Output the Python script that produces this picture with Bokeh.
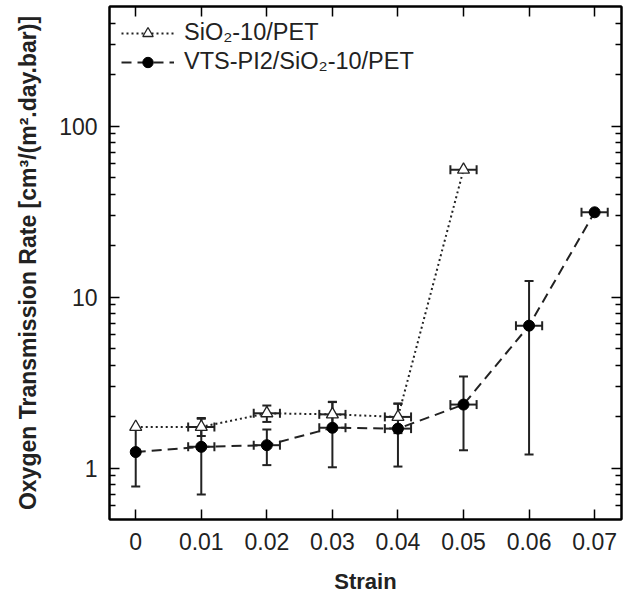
from bokeh.plotting import figure
from bokeh.models import (ColumnDataSource, Whisker, TeeHead, FixedTicker, LinearAxis, LogAxis,
                          Legend, LegendItem, PrintfTickFormatter, CustomJSTickFormatter, Range1d)
from bokeh.embed import file_html
from bokeh.resources import INLINE

# ---- data ----
sio2_strain = [0.0, 0.01, 0.02, 0.03, 0.04, 0.05]
sio2_otr = [1.74, 1.74, 2.09, 2.06, 1.99, 55.5]
sio2_yerr = [0.0, 0.20, 0.23, 0.38, 0.39, 0.0]
sio2_xerr = [0.0, 0.002, 0.002, 0.002, 0.002, 0.002]

vts_strain = [0.0, 0.01, 0.02, 0.03, 0.04, 0.05, 0.06, 0.07]
vts_otr = [1.24, 1.33, 1.36, 1.72, 1.70, 2.35, 6.8, 31.3]
vts_yerr = [0.46, 0.63, 0.32, 0.71, 0.68, 1.08, 5.6, 0.0]
vts_xerr = [0.0, 0.002, 0.002, 0.002, 0.002, 0.002, 0.002, 0.002]

x_ticks = [0.0, 0.01, 0.02, 0.03, 0.04, 0.05, 0.06, 0.07]
x_tick_labels = ["0", "0.01", "0.02", "0.03", "0.04", "0.05", "0.06", "0.07"]
y_ticks = [1, 10, 100]

series_labels = ["SiO\u2082-10/PET", "VTS-PI2/SiO\u2082-10/PET"]
x_title = "Strain"
y_title = "Oxygen Transmission Rate [cm\u00b3/(m\u00b2.day.bar)]"

FONT = "Liberation Sans"

p = figure(frame_width=512, frame_height=513, y_axis_type="log",
           x_range=Range1d(-0.004, 0.0741), y_range=Range1d(0.5, 500),
           output_backend="svg", toolbar_location=None,
           min_border_left=109, min_border_right=10, min_border_top=6, min_border_bottom=77)
p.background_fill_color = "white"
p.border_fill_color = "white"
p.xgrid.visible = False
p.ygrid.visible = False
p.outline_line_color = "black"
p.outline_line_width = 2

y_minor = [m * 10 ** k for k in (-1, 0, 1, 2) for m in range(2, 10) if 0.5 < m * 10 ** k < 500]
yticker = FixedTicker(ticks=y_ticks, minor_ticks=y_minor)
xticker = FixedTicker(ticks=x_ticks, minor_ticks=[])

def style_axis(ax, label_fs="23px", title_fs="22px"):
    ax.axis_line_width = 2
    ax.axis_line_color = "black"
    ax.major_tick_in = 10
    ax.major_tick_out = 0
    ax.minor_tick_in = 6
    ax.minor_tick_out = 0
    ax.major_tick_line_width = 1.5
    ax.minor_tick_line_width = 1.5
    ax.major_label_text_font = FONT
    ax.major_label_text_font_size = label_fs
    ax.major_label_text_color = "#222222"
    ax.axis_label_text_font = FONT
    ax.axis_label_text_font_size = title_fs
    ax.axis_label_text_font_style = "bold"
    ax.axis_label_text_color = "#222222"

xa = p.xaxis[0]
xa.ticker = xticker
xa.major_label_overrides = {t: l for t, l in zip(x_ticks, x_tick_labels)}
xa.axis_label = x_title
style_axis(xa, "23px", "22px")
xa.major_label_standoff = 13
xa.axis_label_standoff = 16

ya = p.yaxis[0]
ya.ticker = yticker
ya.formatter = PrintfTickFormatter(format="%d")
ya.axis_label = y_title
style_axis(ya, "23px", "23px")
ya.major_label_standoff = 12
ya.axis_label_standoff = 15

blank = CustomJSTickFormatter(code="return ''")
top = LinearAxis(ticker=xticker, formatter=blank)
style_axis(top)
top.major_label_standoff = 0
p.add_layout(top, "above")
right = LogAxis(ticker=yticker, formatter=blank)
style_axis(right)
right.major_label_standoff = 0
p.add_layout(right, "right")

def err_source(xs, ys, err, axis):
    rows = [(x, y, e) for x, y, e in zip(xs, ys, err) if e > 0]
    if axis == "y":
        return ColumnDataSource(dict(base=[r[0] for r in rows],
                                     upper=[r[1] + r[2] for r in rows],
                                     lower=[r[1] - r[2] for r in rows]))
    return ColumnDataSource(dict(base=[r[1] for r in rows],
                                 upper=[r[0] + r[2] for r in rows],
                                 lower=[r[0] - r[2] for r in rows]))

def add_errors(xs, ys, xerr, yerr):
    for axis, err, dim in (("y", yerr, "height"), ("x", xerr, "width")):
        src = err_source(xs, ys, err, axis)
        w = Whisker(source=src, base="base", upper="upper", lower="lower", dimension=dim,
                    line_color="#222222", line_width=2,
                    upper_head=TeeHead(size=9, line_color="#222222", line_width=2),
                    lower_head=TeeHead(size=9, line_color="#222222", line_width=2))
        p.add_layout(w)

add_errors(vts_strain, vts_otr, vts_xerr, vts_yerr)
add_errors(sio2_strain, sio2_otr, sio2_xerr, sio2_yerr)

l1 = p.line(sio2_strain, sio2_otr, line_color="#222222", line_width=2, line_dash="2 3")
l2 = p.line(vts_strain, vts_otr, line_color="#222222", line_width=2, line_dash="10 6")
m2 = p.scatter(vts_strain, vts_otr, marker="circle", size=11, fill_color="black",
               line_color="black", line_width=1)
m1 = p.scatter(sio2_strain, sio2_otr, marker="triangle", size=12, fill_color="white",
               line_color="#222222", line_width=1.3)

legend = Legend(items=[LegendItem(label=series_labels[0], renderers=[l1, m1]),
                       LegendItem(label=series_labels[1], renderers=[l2, m2])],
                location="top_left", border_line_color=None, background_fill_alpha=0,
                label_text_font=FONT, label_text_font_size="23.5px", label_text_color="#222222",
                glyph_width=53, glyph_height=26, label_height=29, spacing=0,
                label_standoff=10, padding=13, margin=12)
p.add_layout(legend)

open("out.html", "w").write(file_html(p, INLINE))
